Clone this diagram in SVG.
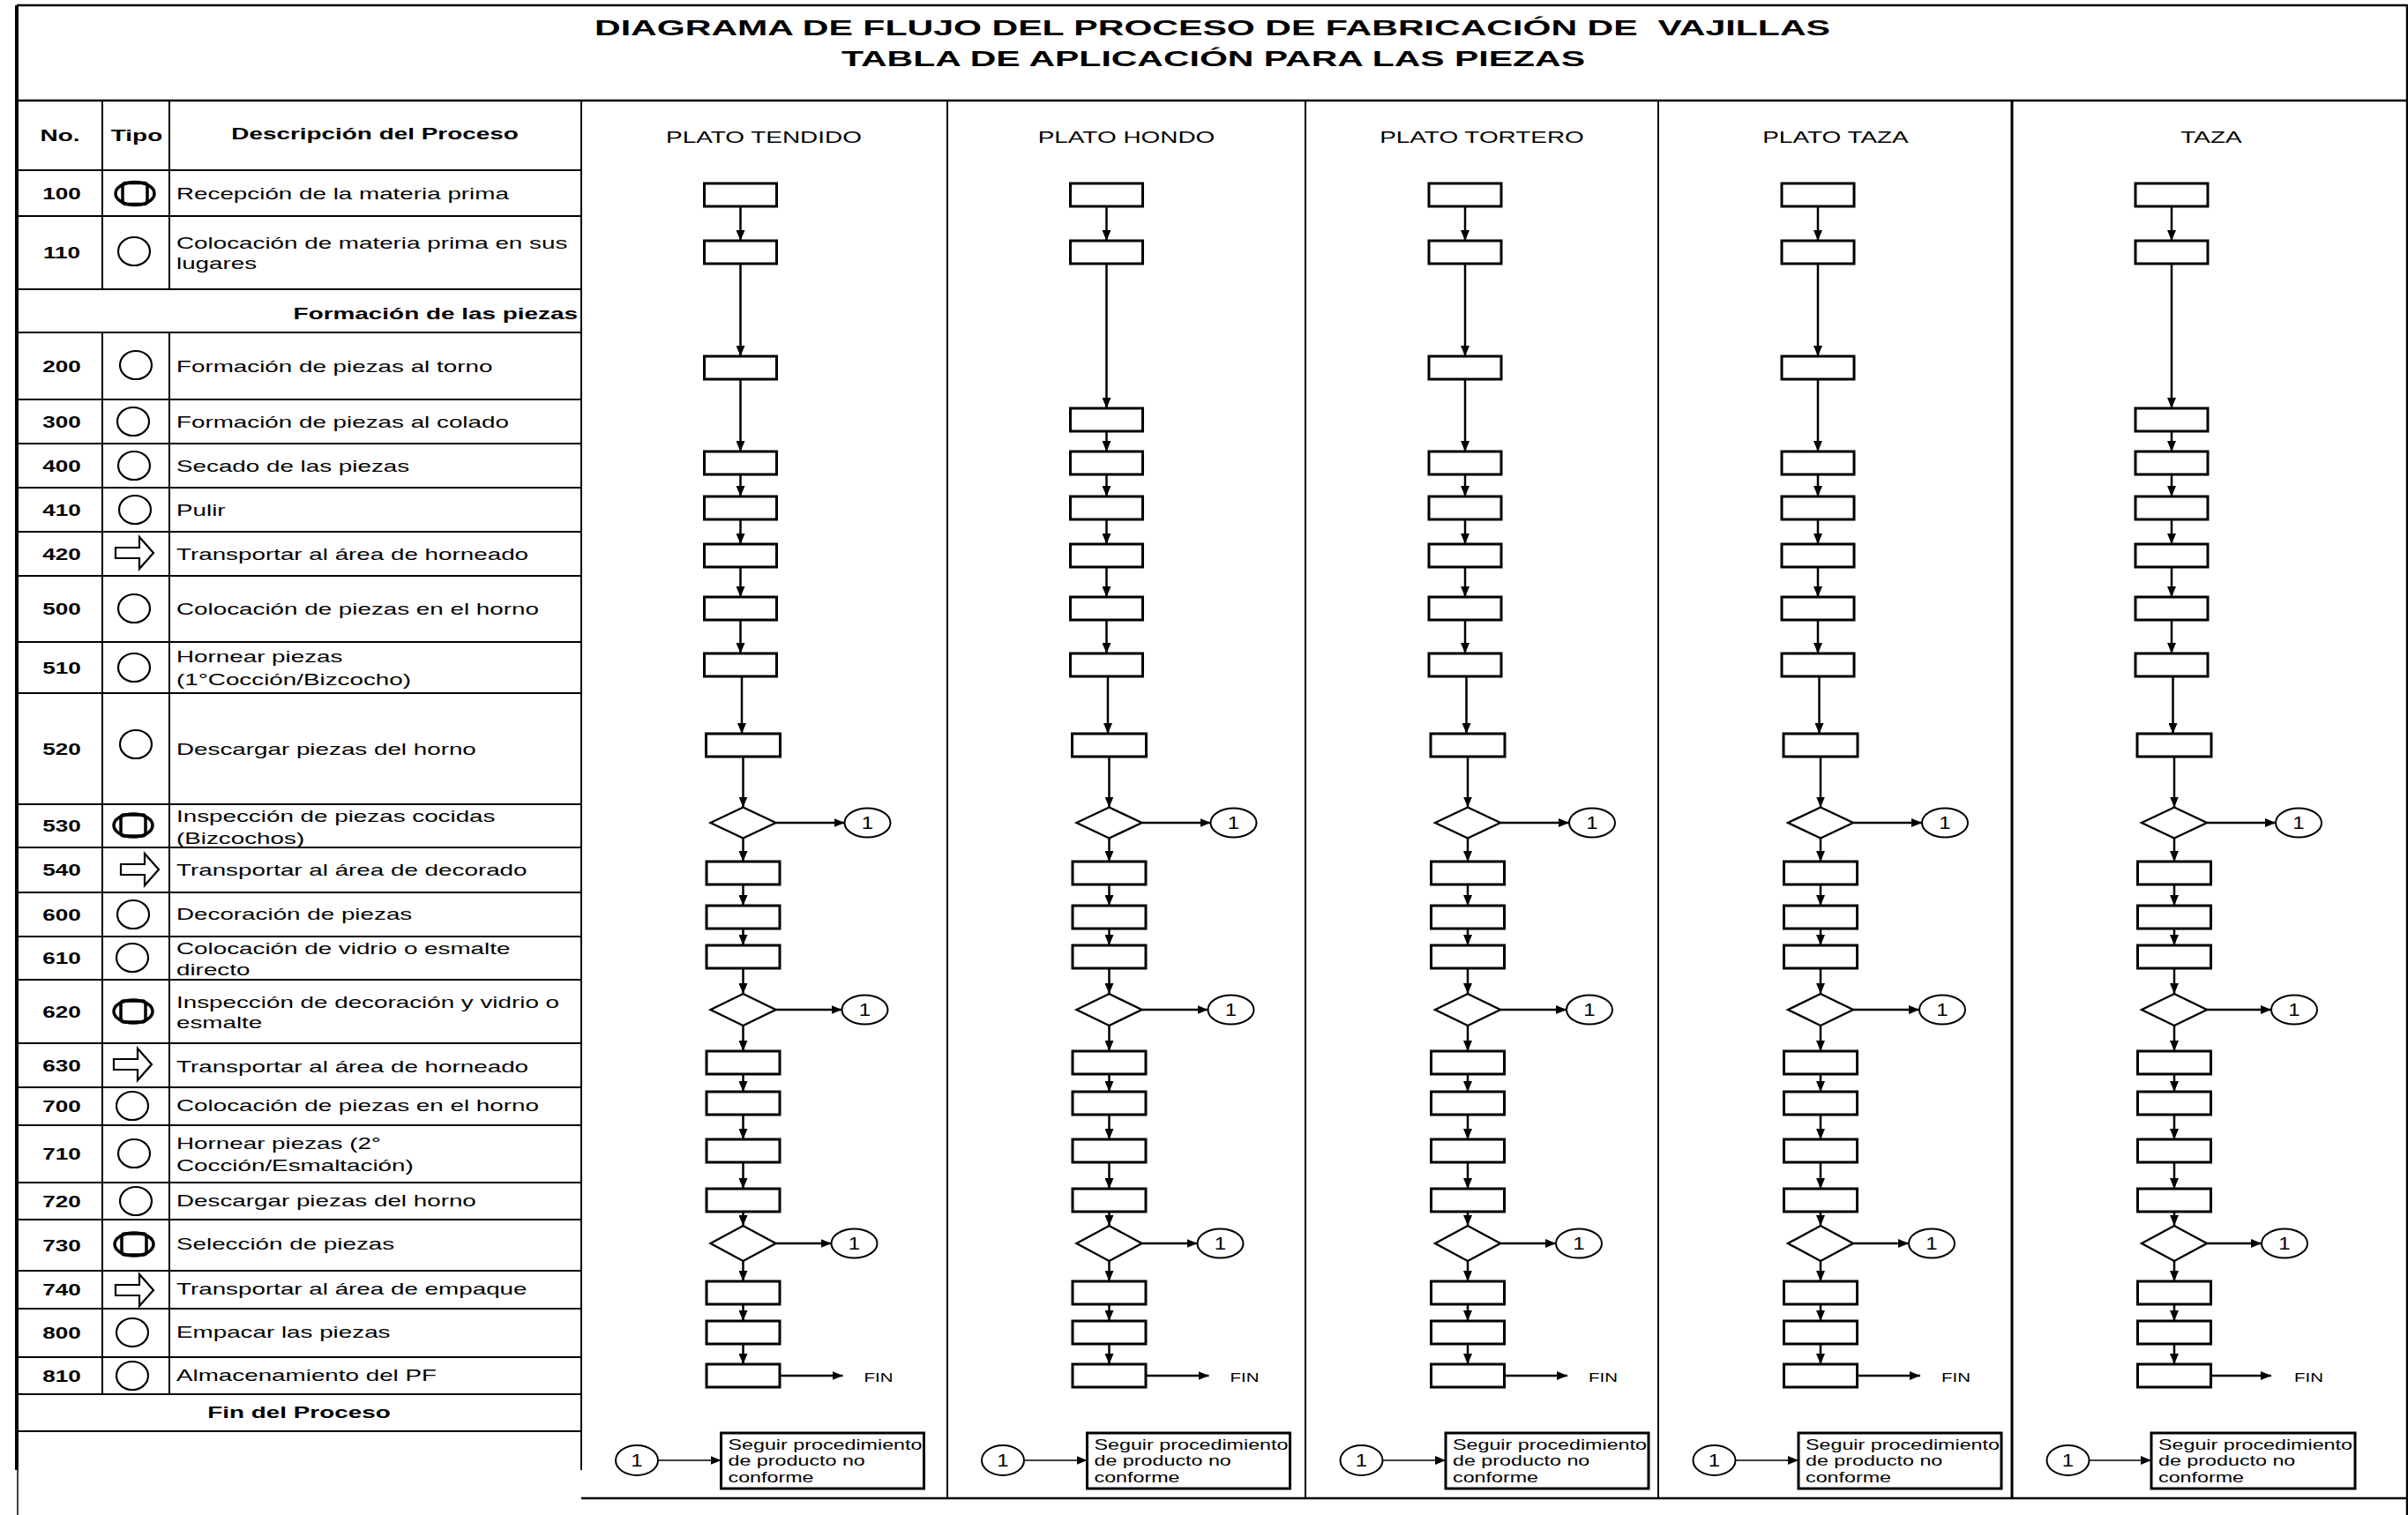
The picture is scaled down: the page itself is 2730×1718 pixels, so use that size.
<svg xmlns="http://www.w3.org/2000/svg" width="2730" height="1718" viewBox="0 0 2730 1718">
<defs>
  <marker id="ah" viewBox="0 0 10 10" refX="10" refY="5" markerWidth="12" markerHeight="10" markerUnits="userSpaceOnUse" orient="auto" preserveAspectRatio="none">
    <path d="M0,0 L10,5 L0,10 Z" fill="#000"/>
  </marker>
  <path id="sym-move" d="M-21,-6 H6 V-18 L22,0 L6,18 V6 H-21 Z"/>
  <g id="sym-op"><ellipse cx="0" cy="0" rx="18" ry="16"/></g>
  <g id="sym-comb"><ellipse cx="0" cy="0" rx="22" ry="13"/><rect x="-14" y="-12" width="28" height="24" rx="3"/></g>
</defs>
<style>
  text { font-family: "Liberation Sans", Arial, Helvetica, sans-serif; fill: #000; }
  .title { font-size: 24px; font-weight: bold; }
  .reg { font-size: 18px; transform-box: fill-box; transform-origin: 0% 50%; transform: scaleX(1.545); }
  .hdr { font-size: 18px; font-weight: bold; transform-box: fill-box; transform-origin: 50% 50%; transform: scaleX(1.55); }
  .hdrR { font-size: 18px; font-weight: bold; transform-box: fill-box; transform-origin: 100% 50%; transform: scaleX(1.55); }
  .num { font-size: 18px; font-weight: bold; transform-box: fill-box; transform-origin: 50% 50%; transform: scaleX(1.45); }
  .col { font-size: 19px; transform-box: fill-box; transform-origin: 50% 50%; transform: scaleX(1.47); }
  .one { font-size: 20px; transform-box: fill-box; transform-origin: 50% 50%; transform: scaleX(1.2); }
  .fin { font-size: 14px; transform-box: fill-box; transform-origin: 0% 50%; transform: scaleX(1.46); }
  .seg { font-size: 16px; transform-box: fill-box; transform-origin: 0% 50%; transform: scaleX(1.455); }
  .grid { stroke: #000; stroke-width: 2; fill: none; }
  .frame { stroke: #000; stroke-width: 2.5; fill: none; }
  .sym { fill: none; stroke: #000; stroke-width: 2.2; }
  .symb { fill: none; stroke: #000; stroke-width: 3.5; }
  .box { fill: #fff; stroke: #000; stroke-width: 3; }
  .dia { fill: #fff; stroke: #000; stroke-width: 2.4; }
  .oc { fill: #fff; stroke: #000; stroke-width: 2; }
  .note { fill: #fff; stroke: #000; stroke-width: 3; }
  .cn { fill: none; stroke: #000; stroke-width: 2.5; marker-end: url(#ah); }
  .cnt { fill: none; stroke: #000; stroke-width: 1.5; marker-end: url(#ah); }
</style>

<rect x="0" y="0" width="2730" height="1718" fill="#fff"/>

<!-- outer frame and title band -->
<g id="frame">
  <path class="frame" d="M19,6 H2729 V1718"/>
  <path d="M19,6 V1667" stroke="#000" stroke-width="4" fill="none"/>
  <path d="M20,1667 V1718" stroke="#000" stroke-width="1.5" fill="none"/>
  <path class="frame" d="M19,114 H2729"/>
  <path class="frame" d="M659,1699 H2729"/>
</g>

<g id="title">
  <text class="title" x="674" y="40" textLength="1401" lengthAdjust="spacingAndGlyphs" xml:space="preserve">DIAGRAMA DE FLUJO DEL PROCESO DE FABRICACIÓN DE  VAJILLAS</text>
  <text class="title" x="954" y="75" textLength="843" lengthAdjust="spacingAndGlyphs">TABLA DE APLICACIÓN PARA LAS PIEZAS</text>
</g>

<!-- process table -->
<g id="table">
  <g class="grid">
    <path d="M116,114 V328 M192,114 V328 M116,377 V1581 M192,377 V1581 M659,114 V1667"/>
    <path d="M19,193 H659 M19,245 H659 M19,328 H659 M19,377 H659 M19,453 H659 M19,503 H659 M19,553 H659 M19,603 H659 M19,653 H659 M19,728 H659 M19,786 H659 M19,912 H659 M19,961 H659 M19,1012 H659 M19,1062 H659 M19,1111 H659 M19,1183 H659 M19,1233 H659 M19,1276 H659 M19,1341 H659 M19,1383 H659 M19,1441 H659 M19,1484 H659 M19,1539 H659 M19,1581 H659 M19,1623 H659"/>
  </g>
  <text class="hdr" x="68" y="160" text-anchor="middle">No.</text>
  <text class="hdr" x="155" y="160" text-anchor="middle">Tipo</text>
  <text class="hdr" x="425" y="158" text-anchor="middle">Descripción del Proceso</text>
  <text class="hdrR" x="655" y="362" text-anchor="end">Formación de las piezas</text>
  <text class="hdr" x="339" y="1608" text-anchor="middle">Fin del Proceso</text>

  <g id="numbers">
    <text class="num" x="70" y="226" text-anchor="middle">100</text>
    <text class="num" x="70" y="293" text-anchor="middle">110</text>
    <text class="num" x="70" y="422" text-anchor="middle">200</text>
    <text class="num" x="70" y="485" text-anchor="middle">300</text>
    <text class="num" x="70" y="535" text-anchor="middle">400</text>
    <text class="num" x="70" y="585" text-anchor="middle">410</text>
    <text class="num" x="70" y="635" text-anchor="middle">420</text>
    <text class="num" x="70" y="697" text-anchor="middle">500</text>
    <text class="num" x="70" y="764" text-anchor="middle">510</text>
    <text class="num" x="70" y="856" text-anchor="middle">520</text>
    <text class="num" x="70" y="943" text-anchor="middle">530</text>
    <text class="num" x="70" y="993" text-anchor="middle">540</text>
    <text class="num" x="70" y="1044" text-anchor="middle">600</text>
    <text class="num" x="70" y="1093" text-anchor="middle">610</text>
    <text class="num" x="70" y="1154" text-anchor="middle">620</text>
    <text class="num" x="70" y="1215" text-anchor="middle">630</text>
    <text class="num" x="70" y="1261" text-anchor="middle">700</text>
    <text class="num" x="70" y="1315" text-anchor="middle">710</text>
    <text class="num" x="70" y="1369" text-anchor="middle">720</text>
    <text class="num" x="70" y="1419" text-anchor="middle">730</text>
    <text class="num" x="70" y="1469" text-anchor="middle">740</text>
    <text class="num" x="70" y="1518" text-anchor="middle">800</text>
    <text class="num" x="70" y="1567" text-anchor="middle">810</text>
  </g>

  <g id="types">
    <use href="#sym-comb" class="symb" transform="translate(153,219.5)"/>
    <use href="#sym-op" class="sym" transform="translate(152,285)"/>
    <use href="#sym-op" class="sym" transform="translate(154,414)"/>
    <use href="#sym-op" class="sym" transform="translate(151,478)"/>
    <use href="#sym-op" class="sym" transform="translate(152,528)"/>
    <use href="#sym-op" class="sym" transform="translate(153,578)"/>
    <use href="#sym-move" class="sym" transform="translate(152,627)"/>
    <use href="#sym-op" class="sym" transform="translate(152,690)"/>
    <use href="#sym-op" class="sym" transform="translate(152,757)"/>
    <use href="#sym-op" class="sym" transform="translate(154,844)"/>
    <use href="#sym-comb" class="symb" transform="translate(151,936)"/>
    <use href="#sym-move" class="sym" transform="translate(158,986)"/>
    <use href="#sym-op" class="sym" transform="translate(151,1037)"/>
    <use href="#sym-op" class="sym" transform="translate(150,1086)"/>
    <use href="#sym-comb" class="symb" transform="translate(151,1147)"/>
    <use href="#sym-move" class="sym" transform="translate(150,1207)"/>
    <use href="#sym-op" class="sym" transform="translate(150,1254)"/>
    <use href="#sym-op" class="sym" transform="translate(152,1308)"/>
    <use href="#sym-op" class="sym" transform="translate(154,1362)"/>
    <use href="#sym-comb" class="symb" transform="translate(152,1411)"/>
    <use href="#sym-move" class="sym" transform="translate(152,1463)"/>
    <use href="#sym-op" class="sym" transform="translate(150,1511)"/>
    <use href="#sym-op" class="sym" transform="translate(150,1560)"/>
  </g>

  <g id="descriptions">
    <text class="reg" x="200" y="226">Recepción de la materia prima</text>
    <text class="reg" x="200" y="282">Colocación de materia prima en sus</text>
    <text class="reg" x="200" y="305">lugares</text>
    <text class="reg" x="200" y="422">Formación de piezas al torno</text>
    <text class="reg" x="200" y="485">Formación de piezas al colado</text>
    <text class="reg" x="200" y="535">Secado de las piezas</text>
    <text class="reg" x="200" y="585">Pulir</text>
    <text class="reg" x="200" y="635">Transportar al área de horneado</text>
    <text class="reg" x="200" y="697">Colocación de piezas en el horno</text>
    <text class="reg" x="200" y="751">Hornear piezas</text>
    <text class="reg" x="200" y="777">(1°Cocción/Bizcocho)</text>
    <text class="reg" x="200" y="856">Descargar piezas del horno</text>
    <text class="reg" x="200" y="932">Inspección de piezas cocidas</text>
    <text class="reg" x="200" y="957">(Bizcochos)</text>
    <text class="reg" x="200" y="993">Transportar al área de decorado</text>
    <text class="reg" x="200" y="1043">Decoración de piezas</text>
    <text class="reg" x="200" y="1082">Colocación de vidrio o esmalte</text>
    <text class="reg" x="200" y="1106">directo</text>
    <text class="reg" x="200" y="1143">Inspección de decoración y vidrio o</text>
    <text class="reg" x="200" y="1166">esmalte</text>
    <text class="reg" x="200" y="1216">Transportar al área de horneado</text>
    <text class="reg" x="200" y="1260">Colocación de piezas en el horno</text>
    <text class="reg" x="200" y="1303">Hornear piezas (2°</text>
    <text class="reg" x="200" y="1328">Cocción/Esmaltación)</text>
    <text class="reg" x="200" y="1368">Descargar piezas del horno</text>
    <text class="reg" x="200" y="1417">Selección de piezas</text>
    <text class="reg" x="200" y="1468">Transportar al área de empaque</text>
    <text class="reg" x="200" y="1517">Empacar las piezas</text>
    <text class="reg" x="200" y="1566">Almacenamiento del PF</text>
  </g>
</g>

<!-- product columns -->
<g id="columns">
  <path class="grid" d="M1074,114 V1699 M1480,114 V1699 M1880,114 V1699"/>
  <path d="M2281,114 V1699" stroke="#000" stroke-width="3" fill="none"/>
  <text class="col" x="866" y="162" text-anchor="middle">PLATO TENDIDO</text>
  <text class="col" x="1277" y="162" text-anchor="middle">PLATO HONDO</text>
  <text class="col" x="1680" y="162" text-anchor="middle">PLATO TORTERO</text>
  <text class="col" x="2081" y="162" text-anchor="middle">PLATO TAZA</text>
  <text class="col" x="2507" y="162" text-anchor="middle">TAZA</text>
</g>

<!-- connectors, one path per link so each gets its arrowhead -->
<g id="connectors">
  <g transform="translate(839.5,0)">
    <path class="cn" d="M0,234V273"/><path class="cn" d="M0,299V404"/><path class="cn" d="M0,430V512"/>
    <path class="cn" d="M0,538V563"/><path class="cn" d="M0,589V617"/><path class="cn" d="M0,643V677"/>
    <path class="cn" d="M0,703V741"/><path class="cn" d="M1.5,767V832"/><path class="cn" d="M3,858V915.5"/>
    <path class="cn" d="M3,950.5V977"/><path class="cn" d="M3,1003V1027"/><path class="cn" d="M3,1053V1072"/>
    <path class="cn" d="M3,1098V1127"/><path class="cn" d="M3,1163V1192"/><path class="cn" d="M3,1218V1238"/>
    <path class="cn" d="M3,1264V1292"/><path class="cn" d="M3,1318V1348"/><path class="cn" d="M3,1374V1390"/>
    <path class="cn" d="M3,1430V1453"/><path class="cn" d="M3,1479V1498"/><path class="cn" d="M3,1524V1547"/>
    <path class="cn" d="M40,933H118"/><path class="cn" d="M40,1145H115"/><path class="cn" d="M40,1410H103"/>
    <path class="cn" d="M44.5,1560H116"/><path class="cnt" d="M-93.5,1656H-22"/>
  </g>
  <g transform="translate(1254.5,0)">
    <path class="cn" d="M0,234V273"/><path class="cn" d="M0,299V463"/><path class="cn" d="M0,489V512"/>
    <path class="cn" d="M0,538V563"/><path class="cn" d="M0,589V617"/><path class="cn" d="M0,643V677"/>
    <path class="cn" d="M0,703V741"/><path class="cn" d="M1.5,767V832"/><path class="cn" d="M3,858V915.5"/>
    <path class="cn" d="M3,950.5V977"/><path class="cn" d="M3,1003V1027"/><path class="cn" d="M3,1053V1072"/>
    <path class="cn" d="M3,1098V1127"/><path class="cn" d="M3,1163V1192"/><path class="cn" d="M3,1218V1238"/>
    <path class="cn" d="M3,1264V1292"/><path class="cn" d="M3,1318V1348"/><path class="cn" d="M3,1374V1390"/>
    <path class="cn" d="M3,1430V1453"/><path class="cn" d="M3,1479V1498"/><path class="cn" d="M3,1524V1547"/>
    <path class="cn" d="M40,933H118"/><path class="cn" d="M40,1145H115"/><path class="cn" d="M40,1410H103"/>
    <path class="cn" d="M44.5,1560H116"/><path class="cnt" d="M-93.5,1656H-22"/>
  </g>
  <g transform="translate(1661,0)">
    <path class="cn" d="M0,234V273"/><path class="cn" d="M0,299V404"/><path class="cn" d="M0,430V512"/>
    <path class="cn" d="M0,538V563"/><path class="cn" d="M0,589V617"/><path class="cn" d="M0,643V677"/>
    <path class="cn" d="M0,703V741"/><path class="cn" d="M1.5,767V832"/><path class="cn" d="M3,858V915.5"/>
    <path class="cn" d="M3,950.5V977"/><path class="cn" d="M3,1003V1027"/><path class="cn" d="M3,1053V1072"/>
    <path class="cn" d="M3,1098V1127"/><path class="cn" d="M3,1163V1192"/><path class="cn" d="M3,1218V1238"/>
    <path class="cn" d="M3,1264V1292"/><path class="cn" d="M3,1318V1348"/><path class="cn" d="M3,1374V1390"/>
    <path class="cn" d="M3,1430V1453"/><path class="cn" d="M3,1479V1498"/><path class="cn" d="M3,1524V1547"/>
    <path class="cn" d="M40,933H118"/><path class="cn" d="M40,1145H115"/><path class="cn" d="M40,1410H103"/>
    <path class="cn" d="M44.5,1560H116"/><path class="cnt" d="M-93.5,1656H-22"/>
  </g>
  <g transform="translate(2061,0)">
    <path class="cn" d="M0,234V273"/><path class="cn" d="M0,299V404"/><path class="cn" d="M0,430V512"/>
    <path class="cn" d="M0,538V563"/><path class="cn" d="M0,589V617"/><path class="cn" d="M0,643V677"/>
    <path class="cn" d="M0,703V741"/><path class="cn" d="M1.5,767V832"/><path class="cn" d="M3,858V915.5"/>
    <path class="cn" d="M3,950.5V977"/><path class="cn" d="M3,1003V1027"/><path class="cn" d="M3,1053V1072"/>
    <path class="cn" d="M3,1098V1127"/><path class="cn" d="M3,1163V1192"/><path class="cn" d="M3,1218V1238"/>
    <path class="cn" d="M3,1264V1292"/><path class="cn" d="M3,1318V1348"/><path class="cn" d="M3,1374V1390"/>
    <path class="cn" d="M3,1430V1453"/><path class="cn" d="M3,1479V1498"/><path class="cn" d="M3,1524V1547"/>
    <path class="cn" d="M40,933H118"/><path class="cn" d="M40,1145H115"/><path class="cn" d="M40,1410H103"/>
    <path class="cn" d="M44.5,1560H116"/><path class="cnt" d="M-93.5,1656H-22"/>
  </g>
  <g transform="translate(2462,0)">
    <path class="cn" d="M0,234V273"/><path class="cn" d="M0,299V463" stroke-width="3.5"/><path class="cn" d="M0,489V512"/>
    <path class="cn" d="M0,538V563"/><path class="cn" d="M0,589V617"/><path class="cn" d="M0,643V677"/>
    <path class="cn" d="M0,703V741"/><path class="cn" d="M1.5,767V832"/><path class="cn" d="M3,858V915.5"/>
    <path class="cn" d="M3,950.5V977"/><path class="cn" d="M3,1003V1027"/><path class="cn" d="M3,1053V1072"/>
    <path class="cn" d="M3,1098V1127"/><path class="cn" d="M3,1163V1192"/><path class="cn" d="M3,1218V1238"/>
    <path class="cn" d="M3,1264V1292"/><path class="cn" d="M3,1318V1348"/><path class="cn" d="M3,1374V1390"/>
    <path class="cn" d="M3,1430V1453"/><path class="cn" d="M3,1479V1498"/><path class="cn" d="M3,1524V1547"/>
    <path class="cn" d="M40,933H118"/><path class="cn" d="M40,1145H113"/><path class="cn" d="M40,1410H102"/>
    <path class="cn" d="M44.5,1560H113"/><path class="cnt" d="M-93.5,1656H-23"/>
  </g>
</g>

<!-- PLATO TENDIDO -->
<g id="tendido" transform="translate(839.5,0)">
  <g id="pt-100"><rect class="box" x="-41" y="208" width="82" height="26"/></g>
  <g id="pt-110"><rect class="box" x="-41" y="273" width="82" height="26"/></g>
  <g id="pt-200"><rect class="box" x="-41" y="404" width="82" height="26"/></g>
  <g id="pt-400"><rect class="box" x="-41" y="512" width="82" height="26"/></g>
  <g id="pt-410"><rect class="box" x="-41" y="563" width="82" height="26"/></g>
  <g id="pt-420"><rect class="box" x="-41" y="617" width="82" height="26"/></g>
  <g id="pt-500"><rect class="box" x="-41" y="677" width="82" height="26"/></g>
  <g id="pt-510"><rect class="box" x="-41" y="741" width="82" height="26"/></g>
  <g id="pt-520"><rect class="box" x="-39" y="832" width="84" height="26"/></g>
  <g id="pt-530"><polygon class="dia" points="-34,933 3,915.5 40,933 3,950.5"/></g>
  <g id="pt-540"><rect class="box" x="-38.5" y="977" width="83" height="26"/></g>
  <g id="pt-600"><rect class="box" x="-38.5" y="1027" width="83" height="26"/></g>
  <g id="pt-610"><rect class="box" x="-38.5" y="1072" width="83" height="26"/></g>
  <g id="pt-620"><polygon class="dia" points="-34,1145 3,1127 40,1145 3,1163"/></g>
  <g id="pt-630"><rect class="box" x="-38.5" y="1192" width="83" height="26"/></g>
  <g id="pt-700"><rect class="box" x="-38.5" y="1238" width="83" height="26"/></g>
  <g id="pt-710"><rect class="box" x="-38.5" y="1292" width="83" height="26"/></g>
  <g id="pt-720"><rect class="box" x="-38.5" y="1348" width="83" height="26"/></g>
  <g id="pt-730"><polygon class="dia" points="-34,1410 3,1390 40,1410 3,1430"/></g>
  <g id="pt-740"><rect class="box" x="-38.5" y="1453" width="83" height="26"/></g>
  <g id="pt-800"><rect class="box" x="-38.5" y="1498" width="83" height="26"/></g>
  <g id="pt-810"><rect class="box" x="-38.5" y="1547" width="83" height="26"/></g>
  <g id="pt-c1"><ellipse class="oc" cx="144" cy="933" rx="26" ry="16.5"/><text class="one" x="144" y="940" text-anchor="middle">1</text></g>
  <g id="pt-c2"><ellipse class="oc" cx="141" cy="1145" rx="26" ry="16.5"/><text class="one" x="141" y="1152" text-anchor="middle">1</text></g>
  <g id="pt-c3"><ellipse class="oc" cx="129" cy="1410" rx="26" ry="16.5"/><text class="one" x="129" y="1417" text-anchor="middle">1</text></g>
  <g id="pt-fin"><text class="fin" x="140" y="1567">FIN</text></g>
  <g id="pt-c4"><ellipse class="oc" cx="-117.5" cy="1656" rx="24" ry="17"/><text class="one" x="-117.5" y="1663" text-anchor="middle">1</text></g>
  <g id="pt-nc"><rect class="note" x="-22" y="1625" width="230" height="63"/>
    <text class="seg" x="-14" y="1644">Seguir procedimiento</text>
    <text class="seg" x="-14" y="1662">de producto no</text>
    <text class="seg" x="-14" y="1681">conforme</text></g>
</g>

<!-- PLATO HONDO -->
<g id="hondo" transform="translate(1254.5,0)">
  <g id="ph-100"><rect class="box" x="-41" y="208" width="82" height="26"/></g>
  <g id="ph-110"><rect class="box" x="-41" y="273" width="82" height="26"/></g>
  <g id="ph-300"><rect class="box" x="-41" y="463" width="82" height="26"/></g>
  <g id="ph-400"><rect class="box" x="-41" y="512" width="82" height="26"/></g>
  <g id="ph-410"><rect class="box" x="-41" y="563" width="82" height="26"/></g>
  <g id="ph-420"><rect class="box" x="-41" y="617" width="82" height="26"/></g>
  <g id="ph-500"><rect class="box" x="-41" y="677" width="82" height="26"/></g>
  <g id="ph-510"><rect class="box" x="-41" y="741" width="82" height="26"/></g>
  <g id="ph-520"><rect class="box" x="-39" y="832" width="84" height="26"/></g>
  <g id="ph-530"><polygon class="dia" points="-34,933 3,915.5 40,933 3,950.5"/></g>
  <g id="ph-540"><rect class="box" x="-38.5" y="977" width="83" height="26"/></g>
  <g id="ph-600"><rect class="box" x="-38.5" y="1027" width="83" height="26"/></g>
  <g id="ph-610"><rect class="box" x="-38.5" y="1072" width="83" height="26"/></g>
  <g id="ph-620"><polygon class="dia" points="-34,1145 3,1127 40,1145 3,1163"/></g>
  <g id="ph-630"><rect class="box" x="-38.5" y="1192" width="83" height="26"/></g>
  <g id="ph-700"><rect class="box" x="-38.5" y="1238" width="83" height="26"/></g>
  <g id="ph-710"><rect class="box" x="-38.5" y="1292" width="83" height="26"/></g>
  <g id="ph-720"><rect class="box" x="-38.5" y="1348" width="83" height="26"/></g>
  <g id="ph-730"><polygon class="dia" points="-34,1410 3,1390 40,1410 3,1430"/></g>
  <g id="ph-740"><rect class="box" x="-38.5" y="1453" width="83" height="26"/></g>
  <g id="ph-800"><rect class="box" x="-38.5" y="1498" width="83" height="26"/></g>
  <g id="ph-810"><rect class="box" x="-38.5" y="1547" width="83" height="26"/></g>
  <g id="ph-c1"><ellipse class="oc" cx="144" cy="933" rx="26" ry="16.5"/><text class="one" x="144" y="940" text-anchor="middle">1</text></g>
  <g id="ph-c2"><ellipse class="oc" cx="141" cy="1145" rx="26" ry="16.5"/><text class="one" x="141" y="1152" text-anchor="middle">1</text></g>
  <g id="ph-c3"><ellipse class="oc" cx="129" cy="1410" rx="26" ry="16.5"/><text class="one" x="129" y="1417" text-anchor="middle">1</text></g>
  <g id="ph-fin"><text class="fin" x="140" y="1567">FIN</text></g>
  <g id="ph-c4"><ellipse class="oc" cx="-117.5" cy="1656" rx="24" ry="17"/><text class="one" x="-117.5" y="1663" text-anchor="middle">1</text></g>
  <g id="ph-nc"><rect class="note" x="-22" y="1625" width="230" height="63"/>
    <text class="seg" x="-14" y="1644">Seguir procedimiento</text>
    <text class="seg" x="-14" y="1662">de producto no</text>
    <text class="seg" x="-14" y="1681">conforme</text></g>
</g>

<!-- PLATO TORTERO -->
<g id="tortero" transform="translate(1661,0)">
  <g id="po-100"><rect class="box" x="-41" y="208" width="82" height="26"/></g>
  <g id="po-110"><rect class="box" x="-41" y="273" width="82" height="26"/></g>
  <g id="po-200"><rect class="box" x="-41" y="404" width="82" height="26"/></g>
  <g id="po-400"><rect class="box" x="-41" y="512" width="82" height="26"/></g>
  <g id="po-410"><rect class="box" x="-41" y="563" width="82" height="26"/></g>
  <g id="po-420"><rect class="box" x="-41" y="617" width="82" height="26"/></g>
  <g id="po-500"><rect class="box" x="-41" y="677" width="82" height="26"/></g>
  <g id="po-510"><rect class="box" x="-41" y="741" width="82" height="26"/></g>
  <g id="po-520"><rect class="box" x="-39" y="832" width="84" height="26"/></g>
  <g id="po-530"><polygon class="dia" points="-34,933 3,915.5 40,933 3,950.5"/></g>
  <g id="po-540"><rect class="box" x="-38.5" y="977" width="83" height="26"/></g>
  <g id="po-600"><rect class="box" x="-38.5" y="1027" width="83" height="26"/></g>
  <g id="po-610"><rect class="box" x="-38.5" y="1072" width="83" height="26"/></g>
  <g id="po-620"><polygon class="dia" points="-34,1145 3,1127 40,1145 3,1163"/></g>
  <g id="po-630"><rect class="box" x="-38.5" y="1192" width="83" height="26"/></g>
  <g id="po-700"><rect class="box" x="-38.5" y="1238" width="83" height="26"/></g>
  <g id="po-710"><rect class="box" x="-38.5" y="1292" width="83" height="26"/></g>
  <g id="po-720"><rect class="box" x="-38.5" y="1348" width="83" height="26"/></g>
  <g id="po-730"><polygon class="dia" points="-34,1410 3,1390 40,1410 3,1430"/></g>
  <g id="po-740"><rect class="box" x="-38.5" y="1453" width="83" height="26"/></g>
  <g id="po-800"><rect class="box" x="-38.5" y="1498" width="83" height="26"/></g>
  <g id="po-810"><rect class="box" x="-38.5" y="1547" width="83" height="26"/></g>
  <g id="po-c1"><ellipse class="oc" cx="144" cy="933" rx="26" ry="16.5"/><text class="one" x="144" y="940" text-anchor="middle">1</text></g>
  <g id="po-c2"><ellipse class="oc" cx="141" cy="1145" rx="26" ry="16.5"/><text class="one" x="141" y="1152" text-anchor="middle">1</text></g>
  <g id="po-c3"><ellipse class="oc" cx="129" cy="1410" rx="26" ry="16.5"/><text class="one" x="129" y="1417" text-anchor="middle">1</text></g>
  <g id="po-fin"><text class="fin" x="140" y="1567">FIN</text></g>
  <g id="po-c4"><ellipse class="oc" cx="-117.5" cy="1656" rx="24" ry="17"/><text class="one" x="-117.5" y="1663" text-anchor="middle">1</text></g>
  <g id="po-nc"><rect class="note" x="-22" y="1625" width="230" height="63"/>
    <text class="seg" x="-14" y="1644">Seguir procedimiento</text>
    <text class="seg" x="-14" y="1662">de producto no</text>
    <text class="seg" x="-14" y="1681">conforme</text></g>
</g>

<!-- PLATO TAZA -->
<g id="plato-taza" transform="translate(2061,0)">
  <g id="pz-100"><rect class="box" x="-41" y="208" width="82" height="26"/></g>
  <g id="pz-110"><rect class="box" x="-41" y="273" width="82" height="26"/></g>
  <g id="pz-200"><rect class="box" x="-41" y="404" width="82" height="26"/></g>
  <g id="pz-400"><rect class="box" x="-41" y="512" width="82" height="26"/></g>
  <g id="pz-410"><rect class="box" x="-41" y="563" width="82" height="26"/></g>
  <g id="pz-420"><rect class="box" x="-41" y="617" width="82" height="26"/></g>
  <g id="pz-500"><rect class="box" x="-41" y="677" width="82" height="26"/></g>
  <g id="pz-510"><rect class="box" x="-41" y="741" width="82" height="26"/></g>
  <g id="pz-520"><rect class="box" x="-39" y="832" width="84" height="26"/></g>
  <g id="pz-530"><polygon class="dia" points="-34,933 3,915.5 40,933 3,950.5"/></g>
  <g id="pz-540"><rect class="box" x="-38.5" y="977" width="83" height="26"/></g>
  <g id="pz-600"><rect class="box" x="-38.5" y="1027" width="83" height="26"/></g>
  <g id="pz-610"><rect class="box" x="-38.5" y="1072" width="83" height="26"/></g>
  <g id="pz-620"><polygon class="dia" points="-34,1145 3,1127 40,1145 3,1163"/></g>
  <g id="pz-630"><rect class="box" x="-38.5" y="1192" width="83" height="26"/></g>
  <g id="pz-700"><rect class="box" x="-38.5" y="1238" width="83" height="26"/></g>
  <g id="pz-710"><rect class="box" x="-38.5" y="1292" width="83" height="26"/></g>
  <g id="pz-720"><rect class="box" x="-38.5" y="1348" width="83" height="26"/></g>
  <g id="pz-730"><polygon class="dia" points="-34,1410 3,1390 40,1410 3,1430"/></g>
  <g id="pz-740"><rect class="box" x="-38.5" y="1453" width="83" height="26"/></g>
  <g id="pz-800"><rect class="box" x="-38.5" y="1498" width="83" height="26"/></g>
  <g id="pz-810"><rect class="box" x="-38.5" y="1547" width="83" height="26"/></g>
  <g id="pz-c1"><ellipse class="oc" cx="144" cy="933" rx="26" ry="16.5"/><text class="one" x="144" y="940" text-anchor="middle">1</text></g>
  <g id="pz-c2"><ellipse class="oc" cx="141" cy="1145" rx="26" ry="16.5"/><text class="one" x="141" y="1152" text-anchor="middle">1</text></g>
  <g id="pz-c3"><ellipse class="oc" cx="129" cy="1410" rx="26" ry="16.5"/><text class="one" x="129" y="1417" text-anchor="middle">1</text></g>
  <g id="pz-fin"><text class="fin" x="140" y="1567">FIN</text></g>
  <g id="pz-c4"><ellipse class="oc" cx="-117.5" cy="1656" rx="24" ry="17"/><text class="one" x="-117.5" y="1663" text-anchor="middle">1</text></g>
  <g id="pz-nc"><rect class="note" x="-22" y="1625" width="230" height="63"/>
    <text class="seg" x="-14" y="1644">Seguir procedimiento</text>
    <text class="seg" x="-14" y="1662">de producto no</text>
    <text class="seg" x="-14" y="1681">conforme</text></g>
</g>

<!-- TAZA -->
<g id="taza" transform="translate(2462,0)">
  <g id="tz-100"><rect class="box" x="-41" y="208" width="82" height="26"/></g>
  <g id="tz-110"><rect class="box" x="-41" y="273" width="82" height="26"/></g>
  <g id="tz-300"><rect class="box" x="-41" y="463" width="82" height="26"/></g>
  <g id="tz-400"><rect class="box" x="-41" y="512" width="82" height="26"/></g>
  <g id="tz-410"><rect class="box" x="-41" y="563" width="82" height="26"/></g>
  <g id="tz-420"><rect class="box" x="-41" y="617" width="82" height="26"/></g>
  <g id="tz-500"><rect class="box" x="-41" y="677" width="82" height="26"/></g>
  <g id="tz-510"><rect class="box" x="-41" y="741" width="82" height="26"/></g>
  <g id="tz-520"><rect class="box" x="-39" y="832" width="84" height="26"/></g>
  <g id="tz-530"><polygon class="dia" points="-34,933 3,915.5 40,933 3,950.5"/></g>
  <g id="tz-540"><rect class="box" x="-38.5" y="977" width="83" height="26"/></g>
  <g id="tz-600"><rect class="box" x="-38.5" y="1027" width="83" height="26"/></g>
  <g id="tz-610"><rect class="box" x="-38.5" y="1072" width="83" height="26"/></g>
  <g id="tz-620"><polygon class="dia" points="-34,1145 3,1127 40,1145 3,1163"/></g>
  <g id="tz-630"><rect class="box" x="-38.5" y="1192" width="83" height="26"/></g>
  <g id="tz-700"><rect class="box" x="-38.5" y="1238" width="83" height="26"/></g>
  <g id="tz-710"><rect class="box" x="-38.5" y="1292" width="83" height="26"/></g>
  <g id="tz-720"><rect class="box" x="-38.5" y="1348" width="83" height="26"/></g>
  <g id="tz-730"><polygon class="dia" points="-34,1410 3,1390 40,1410 3,1430"/></g>
  <g id="tz-740"><rect class="box" x="-38.5" y="1453" width="83" height="26"/></g>
  <g id="tz-800"><rect class="box" x="-38.5" y="1498" width="83" height="26"/></g>
  <g id="tz-810"><rect class="box" x="-38.5" y="1547" width="83" height="26"/></g>
  <g id="tz-c1"><ellipse class="oc" cx="144" cy="933" rx="26" ry="16.5"/><text class="one" x="144" y="940" text-anchor="middle">1</text></g>
  <g id="tz-c2"><ellipse class="oc" cx="139" cy="1145" rx="26" ry="16.5"/><text class="one" x="139" y="1152" text-anchor="middle">1</text></g>
  <g id="tz-c3"><ellipse class="oc" cx="128" cy="1410" rx="26" ry="16.5"/><text class="one" x="128" y="1417" text-anchor="middle">1</text></g>
  <g id="tz-fin"><text class="fin" x="139" y="1567">FIN</text></g>
  <g id="tz-c4"><ellipse class="oc" cx="-117.5" cy="1656" rx="24" ry="17"/><text class="one" x="-117.5" y="1663" text-anchor="middle">1</text></g>
  <g id="tz-nc"><rect class="note" x="-23" y="1625" width="231" height="63"/>
    <text class="seg" x="-15" y="1644">Seguir procedimiento</text>
    <text class="seg" x="-15" y="1662">de producto no</text>
    <text class="seg" x="-15" y="1681">conforme</text></g>
</g>
</svg>
